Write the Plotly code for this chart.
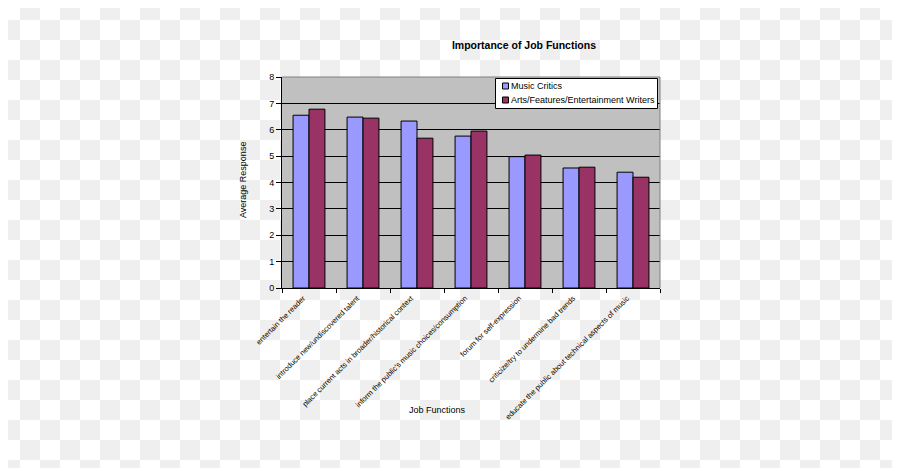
import plotly.graph_objects as go

categories = [
    "entertain the reader",
    "introduce new/undiscovered talent",
    "place current acts in broader/historical context",
    "inform the public's music choices/consumption",
    "forum for self-expression",
    "criticize/try to undermine bad trends",
    "educate the public about technical aspects of music",
]
music_critics = [6.55, 6.48, 6.33, 5.76, 4.98, 4.55, 4.39]
arts_writers = [6.78, 6.44, 5.68, 5.95, 5.04, 4.58, 4.20]
y_ticks = [0, 1, 2, 3, 4, 5, 6, 7, 8]
series_names = ["Music Critics", "Arts/Features/Entertainment Writers"]
series_colors = ["#9999FF", "#993366"]

# page body has an 8px margin: work in reference-pixel coordinates, shift by OFF
OFF = 8
W, H = 900 - OFF, 468 - OFF
PL, PR, PT, PB = 282, 660, 77, 288          # plot area in reference pixels
L, T = PL - OFF, PT - OFF
PW, PH = PR - PL, PB - PT
R, B = W - L - PW, H - T - PH

def px_x(p):
    return (p - PL) / PW

def px_y(p):
    return (PB - p) / PH

FONT = "Liberation Sans, Arial, sans-serif"

fig = go.Figure()
for name, vals, col in zip(series_names, [music_critics, arts_writers], series_colors):
    fig.add_trace(go.Bar(
        name=name, x=categories, y=vals,
        marker=dict(color=col, line=dict(color="black", width=1)),
    ))

shapes = []
# transparent-checkerboard background
cell = 20
for i in range(900 // cell + 1):
    for j in range(468 // cell + 1):
        if (i + j) % 2 == 1:
            shapes.append(dict(
                type="rect", xref="paper", yref="paper", layer="below",
                x0=px_x(i * cell), x1=px_x((i + 1) * cell),
                y0=px_y(j * cell), y1=px_y((j + 1) * cell),
                fillcolor="#efefef", line=dict(width=0),
            ))
# plot area background
shapes.append(dict(type="rect", xref="paper", yref="paper", layer="below",
                   x0=0, x1=1, y0=0, y1=1, fillcolor="#c0c0c0", line=dict(width=0)))
# gray top/right border
shapes.append(dict(type="line", xref="paper", yref="paper", layer="above",
                   x0=0, x1=1, y0=1, y1=1, line=dict(color="#808080", width=1)))
shapes.append(dict(type="line", xref="paper", yref="paper", layer="above",
                   x0=1, x1=1, y0=0, y1=1, line=dict(color="#808080", width=1)))

# legend box (drawn manually to match the compact Excel legend)
LG_X0, LG_X1, LG_Y0, LG_Y1 = 495.5, 657.5, 78.5, 108.5
shapes.append(dict(type="rect", xref="paper", yref="paper", layer="above",
                   x0=px_x(LG_X0), x1=px_x(LG_X1), y0=px_y(LG_Y0), y1=px_y(LG_Y1),
                   fillcolor="white", line=dict(color="black", width=1)))
annotations = []
row_centers = [86, 100]
for name, col, yc in zip(series_names, series_colors, row_centers):
    shapes.append(dict(type="rect", xref="paper", yref="paper", layer="above",
                       x0=px_x(502.5), x1=px_x(508.5), y0=px_y(yc - 3), y1=px_y(yc + 3),
                       fillcolor=col, line=dict(color="black", width=1)))
    annotations.append(dict(text=name, xref="paper", yref="paper",
                            x=px_x(509), y=px_y(yc), xanchor="left", yanchor="middle",
                            showarrow=False, font=dict(family=FONT, size=9, color="black")))

annotations += [
    dict(text="Average Response", xref="paper", yref="paper", x=px_x(243), y=px_y(180),
         xanchor="center", yanchor="middle",
         textangle=-90, showarrow=False, font=dict(family=FONT, size=9, color="black")),
    dict(text="Job Functions", xref="paper", yref="paper", x=px_x(437), y=px_y(410),
         xanchor="center", yanchor="middle",
         showarrow=False, font=dict(family=FONT, size=9, color="black")),
]

fig.update_layout(
    width=W, height=H,
    margin=dict(l=L, r=R, t=T, b=B, pad=0),
    paper_bgcolor="white",
    plot_bgcolor="rgba(0,0,0,0)",
    barmode="group", bargap=0.41, bargroupgap=0,
    font=dict(family=FONT, size=9, color="black"),
    title=dict(text="<b>Importance of Job Functions</b>", x=px_x(524), xref="paper",
               xanchor="center", y=1 - (45 - OFF) / H, yref="container", yanchor="middle",
               font=dict(family=FONT, size=10.5, color="black")),
    showlegend=False,
    shapes=shapes,
    annotations=annotations,
)
fig.update_xaxes(
    type="category", showline=True, linecolor="black", linewidth=1,
    ticks="outside", ticklen=4, tickcolor="black", tickson="boundaries",
    tickangle=-45, tickfont=dict(family=FONT, size=7.5, color="black"),
    ticklabelshift=-6, ticklabelstandoff=2,
    showgrid=False,
)
fig.update_yaxes(
    range=[0, 8], tickvals=y_ticks, showline=True, linecolor="black", linewidth=1,
    ticks="outside", ticklen=5, tickcolor="black",
    showgrid=True, gridcolor="black", gridwidth=1, zeroline=False,
    tickfont=dict(family=FONT, size=9, color="black"),
)

fig.write_html("out.html")
